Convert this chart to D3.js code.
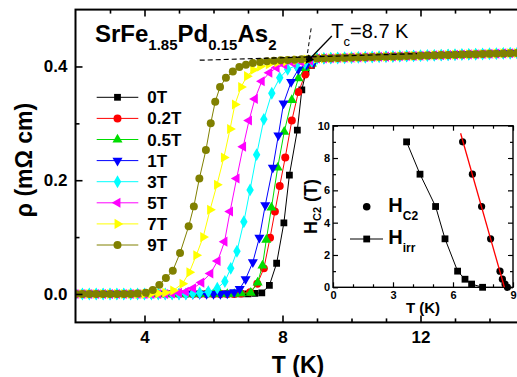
<!DOCTYPE html>
<html>
<head>
<meta charset="utf-8">
<script src="https://cdn.jsdelivr.net/npm/d3@7"></script>
<style>
body { margin: 0; background: #fff; }
text { font-family: Arial, "Liberation Sans", sans-serif; }
</style>
</head>
<body>
<div id="main"></div>
<script>
// fields and styles of the R(T) curves
var fields = ["0T", "0.2T", "0.5T", "1T", "3T", "5T", "7T", "9T"];
var colors = ["#000000", "#ff0000", "#00dd00", "#0000ff", "#00ffff", "#ff00ff", "#ffff00", "#808000"];
var shapes = ["square", "circle", "up", "down", "diamond", "left", "right", "circle"];

// [T (K), rho (mOhm cm)]
var rho0T = [[2.0,0],[2.2,0],[2.4,0],[2.6,0],[2.8,0],[3.0,0],[3.2,0],[3.4,0],[3.6,0],[3.8,0],[4.0,0],[4.2,0],[4.4,0],[4.6,0],[4.8,0],[5.0,0],[5.2,0],[5.4,0],[5.6,0],[5.8,0],[6.0,0],[6.2,0],[6.4,0],[6.6,0],[6.8,0],[7.0,0],[7.2,0.001],[7.4,0.002],
    [7.62,0.015],[7.83,0.054],[8.04,0.125],[8.2,0.209],[8.43,0.288],[8.56,0.359],[8.68,0.39],[8.84,0.402]];
var rho02T = [[2.0,0],[2.2,0],[2.4,0],[2.6,0],[2.8,0],[3.0,0],[3.2,0],[3.4,0],[3.6,0],[3.8,0],[4.0,0],[4.2,0],[4.4,0],[4.6,0],[4.8,0],[5.0,0],[5.2,0],[5.4,0],[5.6,0],[5.8,0],[6.0,0],[6.2,0],[6.4,0],[6.6,0],[6.8,0.001],
    [7.06,0.003],[7.27,0.018],[7.46,0.045],[7.64,0.099],[7.78,0.145],[7.92,0.19],[8.08,0.24],[8.27,0.305],[8.46,0.355],[8.66,0.386],[8.85,0.403]];
var rho05T = [[2.0,0],[2.2,0],[2.4,0],[2.6,0],[2.8,0],[3.0,0],[3.2,0],[3.4,0],[3.6,0],[3.8,0],[4.0,0],[4.2,0],[4.4,0],[4.6,0],[4.8,0],[5.0,0],[5.2,0],[5.4,0],[5.6,0],[5.8,0],[6.0,0],[6.2,0],[6.4,0],[6.6,0],[6.8,0.001],
    [7.08,0.002],[7.28,0.02],[7.42,0.05],[7.53,0.095],[7.68,0.152],[7.86,0.222],[8.05,0.285],[8.27,0.341],[8.46,0.379],[8.65,0.397],[8.85,0.405]];
var rho1T = [[2.0,0],[2.2,0],[2.4,0],[2.6,0],[2.8,0],[3.0,0],[3.2,0],[3.4,0],[3.6,0],[3.8,0],[4.0,0],[4.2,0],[4.4,0],[4.6,0],[4.8,0],[5.0,0],[5.2,0],[5.4,0],[5.6,0],[5.8,0],[6.0,0],[6.2,0],[6.4,0.001],
    [6.6,0.003],[6.76,0.009],[6.93,0.026],[7.14,0.056],[7.33,0.099],[7.5,0.156],[7.72,0.222],[7.88,0.279],[8.03,0.335],[8.25,0.373],[8.46,0.395],[8.7,0.403],[8.9,0.407]];
var rho3T = [[2.0,0],[2.2,0],[2.4,0],[2.6,0],[2.8,0],[3.0,0],[3.2,0],[3.4,0],[3.6,0],[3.8,0],[4.0,0],[4.2,0],[4.4,0],[4.6,0],[4.8,0],[5.0,0],[5.2,0],[5.4,0.001],[5.6,0.002],
    [5.85,0.004],[6.11,0.01],[6.33,0.022],[6.5,0.045],[6.68,0.075],[6.88,0.127],[7.06,0.183],[7.25,0.245],[7.46,0.307],[7.69,0.353],[7.92,0.38],[8.15,0.395],[8.4,0.402],[8.65,0.406],[8.85,0.409]];
var rho5T = [[2.0,0],[2.2,0],[2.4,0],[2.6,0],[2.8,0],[3.0,0],[3.2,0],[3.4,0],[3.6,0],[3.8,0],[4.0,0],[4.2,0],[4.4,0],[4.6,0],[4.8,0.001],[5.0,0.002],
    [5.2,0.004],[5.41,0.01],[5.65,0.02],[5.91,0.036],[6.12,0.058],[6.32,0.092],[6.48,0.145],[6.67,0.203],[6.86,0.259],[7.03,0.305],[7.2,0.343],[7.4,0.374],[7.62,0.389],[7.83,0.398],[8.05,0.403],[8.3,0.406],[8.55,0.408],[8.8,0.41]];
var rho7T = [[2.0,0],[2.2,0],[2.4,0],[2.6,0],[2.8,0],[3.0,0],[3.2,0],[3.4,0],[3.6,0],[3.8,0],[4.0,0],[4.2,0.001],[4.4,0.001],
    [4.6,0.002],[4.83,0.006],[5.1,0.018],[5.3,0.038],[5.5,0.068],[5.7,0.1],[5.9,0.148],[6.1,0.192],[6.3,0.24],[6.48,0.29],[6.62,0.333],[6.8,0.364],[6.97,0.383],[7.15,0.394],[7.35,0.4],[7.6,0.404],[7.85,0.407],[8.1,0.409],[8.4,0.411],[8.7,0.412]];
var rho9T = [[2.0,0],[2.2,0],[2.4,0],[2.6,0],[2.8,0],[3.0,0],[3.2,0],[3.4,0],[3.6,0],[3.8,0.001],
    [4.04,0.002],[4.24,0.007],[4.43,0.016],[4.62,0.028],[4.82,0.041],[5.03,0.072],[5.28,0.119],[5.43,0.154],[5.59,0.203],[5.78,0.253],[5.92,0.3],[6.05,0.338],[6.19,0.364],[6.36,0.38],[6.56,0.391],[6.75,0.399],[6.94,0.403],
    [7.14,0.406],[7.35,0.408],[7.55,0.409],[7.75,0.41],[7.95,0.411],[8.15,0.4115],[8.35,0.412],[8.55,0.4125],[8.75,0.413]];
// normal state above Tc, common to all fields
var normalState = [[9.0,0.414],[9.2,0.4143],[9.4,0.4146],[9.6,0.415],[9.8,0.4153],[10.0,0.4156],[10.2,0.416],[10.4,0.4163],[10.6,0.4166],[10.8,0.417],
    [11.0,0.4173],[11.2,0.4176],[11.4,0.418],[11.6,0.4183],[11.8,0.4186],[12.0,0.419],[12.2,0.4193],[12.4,0.4196],[12.6,0.42],[12.8,0.4203],
    [13.0,0.4206],[13.2,0.421],[13.4,0.4213],[13.6,0.4216],[13.8,0.422],[14.0,0.4223],[14.2,0.4226],[14.4,0.423],[14.6,0.4233],[14.8,0.4236]];
var curves = [rho0T, rho02T, rho05T, rho1T, rho3T, rho5T, rho7T, rho9T];

// Tc construction lines
var dashH = [[5.6, 0.411], [11.9, 0.4225]];
var dashV = [[8.83, 0.467], [8.68, 0.405]];
var arrowTc = [[9.43, 0.4535], [8.69, 0.407]];

// inset: fields and critical temperatures
var insetFields = [9, 7, 5, 3, 1, 0.5, 0.2, 0];
var tIrr = [3.68, 4.35, 5.13, 5.6, 6.23, 6.6, 6.93, 7.48];
var tC2 = [6.48, 6.97, 7.43, 7.88, 8.35, 8.47, 8.6, 8.72];
var hc2Fit = [[6.38, 9.53], [8.57, 0]];

var x = d3.scaleLinear().domain([2, 15]).range([75.5, 524]);
var y = d3.scaleLinear().domain([-0.05, 0.5]).range([322.4, 9.6]);
var ix = d3.scaleLinear().domain([0, 9]).range([333, 513]);
var iy = d3.scaleLinear().domain([0, 10]).range([287.3, 125.7]);

function symbolPath(shape) {
    var t = { square: d3.symbolSquare, circle: d3.symbolCircle, diamond: d3.symbolDiamond }[shape] || d3.symbolTriangle;
    var size = { square: 46, circle: 50, diamond: 48 }[shape] || 44;
    return d3.symbol().type(t).size(size)();
}
function symbolRot(shape) {
    return { down: 180, left: -90, right: 90 }[shape] || 0;
}

var svg = d3.select("#main").append("svg")
    .attr("width", 517).attr("height", 377);

svg.append("defs").append("clipPath").attr("id", "plotClip")
    .append("rect").attr("x", x(2)).attr("y", y(0.5))
    .attr("width", x(15) - x(2)).attr("height", y(-0.05) - y(0.5));

svg.append("defs").append("marker").attr("id", "arrowHead")
    .attr("viewBox", "0 0 10 10").attr("refX", 9).attr("refY", 5)
    .attr("markerWidth", 10).attr("markerHeight", 8).attr("markerUnits", "userSpaceOnUse")
    .attr("orient", "auto")
    .append("path").attr("d", "M0,0 L10,5 L0,10 Z").attr("fill", "#000");

// main curves
var plot = svg.append("g").attr("clip-path", "url(#plotClip)");
var line = d3.line().x(function (d) { return x(d[0]); }).y(function (d) { return y(d[1]); });

curves.forEach(function (c, i) {
    var pts = c.concat(normalState);
    var g = plot.append("g");
    g.append("path").attr("d", line(pts)).attr("fill", "none")
        .attr("stroke", colors[i]).attr("stroke-width", 1);
    g.selectAll("path.pt").data(pts).enter().append("path").attr("class", "pt")
        .attr("d", symbolPath(shapes[i]))
        .attr("transform", function (d) {
            return "translate(" + x(d[0]) + "," + y(d[1]) + ") rotate(" + symbolRot(shapes[i]) + ")";
        })
        .attr("fill", colors[i]);
});

// Tc construction
plot.append("path").attr("d", line(dashH)).attr("stroke", "#000").attr("stroke-width", 1.2)
    .attr("stroke-dasharray", "5,3").attr("fill", "none");
svg.append("path").attr("d", line(dashV)).attr("stroke", "#000").attr("stroke-width", 1)
    .attr("stroke-dasharray", "4,3").attr("fill", "none");
svg.append("path").attr("d", line(arrowTc)).attr("stroke", "#000").attr("stroke-width", 1.3)
    .attr("fill", "none").attr("marker-end", "url(#arrowHead)");

var tcText = svg.append("text").attr("x", x(9.43) - 0.5).attr("y", 37.5)
    .attr("font-size", 20).attr("fill", "#000");
tcText.append("tspan").text("T");
tcText.append("tspan").attr("font-size", 13).attr("dy", 8).text("c");
tcText.append("tspan").attr("dy", -8).text("=8.7 K");

// axes
function styleAxis(g) {
    g.select(".domain").remove();
    g.selectAll(".tick line").attr("stroke", "#000").attr("stroke-width", 1.6);
    g.selectAll(".tick text").attr("font-size", 17).attr("font-weight", "bold")
        .attr("fill", "#000").style("font-family", "Arial, 'Liberation Sans', sans-serif");
}
var majX = [4, 8, 12], minX = [3, 5, 6, 7, 9, 10, 11, 13, 14];
var majY = [0, 0.2, 0.4], minY = [0.1, 0.3];

svg.append("g").attr("transform", "translate(0," + y(-0.05) + ")")
    .call(d3.axisBottom(x).tickValues(majX).tickSize(-7).tickPadding(9).tickFormat(d3.format("d"))).call(styleAxis);
svg.append("g").attr("transform", "translate(0," + y(-0.05) + ")")
    .call(d3.axisBottom(x).tickValues(minX).tickSize(-4).tickFormat("")).call(styleAxis);
svg.append("g").attr("transform", "translate(0," + y(0.5) + ")")
    .call(d3.axisTop(x).tickValues(majX).tickSize(-7).tickFormat("")).call(styleAxis);
svg.append("g").attr("transform", "translate(0," + y(0.5) + ")")
    .call(d3.axisTop(x).tickValues(minX).tickSize(-4).tickFormat("")).call(styleAxis);
svg.append("g").attr("transform", "translate(" + x(2) + ",0)")
    .call(d3.axisLeft(y).tickValues(majY).tickSize(-7).tickPadding(8).tickFormat(d3.format(".1f"))).call(styleAxis);
svg.append("g").attr("transform", "translate(" + x(2) + ",0)")
    .call(d3.axisLeft(y).tickValues(minY).tickSize(-4).tickFormat("")).call(styleAxis);
svg.append("g").attr("transform", "translate(" + x(15) + ",0)")
    .call(d3.axisRight(y).tickValues(majY).tickSize(-7).tickFormat("")).call(styleAxis);
svg.append("g").attr("transform", "translate(" + x(15) + ",0)")
    .call(d3.axisRight(y).tickValues(minY).tickSize(-4).tickFormat("")).call(styleAxis);

svg.append("rect").attr("x", x(2)).attr("y", y(0.5))
    .attr("width", x(15) - x(2)).attr("height", y(-0.05) - y(0.5))
    .attr("fill", "none").attr("stroke", "#000").attr("stroke-width", 2);

svg.append("text").attr("x", 298).attr("y", 373).attr("text-anchor", "middle")
    .attr("font-size", 23).attr("font-weight", "bold").text("T (K)");
svg.append("text").attr("transform", "translate(32,160) rotate(-90)").attr("text-anchor", "middle")
    .attr("font-size", 23).attr("font-weight", "bold").text("\u03c1 (m\u03a9 cm)");

// title
var title = svg.append("text").attr("x", 95).attr("y", 41.7)
    .attr("font-size", 24).attr("font-weight", "bold");
[["SrFe", 0], ["1.85", 1], ["Pd", 0], ["0.15", 1], ["As", 0], ["2", 1]].forEach(function (p, i, arr) {
    var prev = i > 0 ? arr[i - 1][1] : 0;
    title.append("tspan").attr("font-size", p[1] ? 15 : 24)
        .attr("dy", (p[1] - prev) * 8).text(p[0]);
});

// legend
var legend = svg.append("g");
fields.forEach(function (f, i) {
    var ly = 97.3 + i * 21.1;
    legend.append("line").attr("x1", 96.7).attr("x2", 138.3).attr("y1", ly).attr("y2", ly)
        .attr("stroke", colors[i]).attr("stroke-width", 1);
    legend.append("path").attr("d", symbolPath(shapes[i]))
        .attr("transform", "translate(117.5," + ly + ") rotate(" + symbolRot(shapes[i]) + ")")
        .attr("fill", colors[i]);
    legend.append("text").attr("x", 147.3).attr("y", ly + 6).attr("font-size", 17)
        .attr("font-weight", "bold").text(f);
});

// inset
var inset = svg.append("g");
inset.append("rect").attr("x", ix(0)).attr("y", iy(10))
    .attr("width", ix(9) - ix(0)).attr("height", iy(0) - iy(10)).attr("fill", "#fff");

function styleInset(g) {
    g.select(".domain").remove();
    g.selectAll(".tick line").attr("stroke", "#000").attr("stroke-width", 1.2);
    g.selectAll(".tick text").attr("font-size", 11).attr("font-weight", "bold")
        .attr("fill", "#000").style("font-family", "Arial, 'Liberation Sans', sans-serif");
}
var iMajX = [0, 3, 6, 9], iMinX = [1, 2, 4, 5, 7, 8];
var iMajY = [0, 2, 4, 6, 8, 10], iMinY = [1, 3, 5, 7, 9];
inset.append("g").attr("transform", "translate(0," + iy(0) + ")")
    .call(d3.axisBottom(ix).tickValues(iMajX).tickSize(-5).tickPadding(4)).call(styleInset);
inset.append("g").attr("transform", "translate(0," + iy(0) + ")")
    .call(d3.axisBottom(ix).tickValues(iMinX).tickSize(-3).tickFormat("")).call(styleInset);
inset.append("g").attr("transform", "translate(0," + iy(10) + ")")
    .call(d3.axisTop(ix).tickValues(iMajX).tickSize(-5).tickFormat("")).call(styleInset);
inset.append("g").attr("transform", "translate(0," + iy(10) + ")")
    .call(d3.axisTop(ix).tickValues(iMinX).tickSize(-3).tickFormat("")).call(styleInset);
inset.append("g").attr("transform", "translate(" + ix(0) + ",0)")
    .call(d3.axisLeft(iy).tickValues(iMajY).tickSize(-5).tickPadding(3)).call(styleInset);
inset.append("g").attr("transform", "translate(" + ix(0) + ",0)")
    .call(d3.axisLeft(iy).tickValues(iMinY).tickSize(-3).tickFormat("")).call(styleInset);
inset.append("g").attr("transform", "translate(" + ix(9) + ",0)")
    .call(d3.axisRight(iy).tickValues(iMajY).tickSize(-5).tickFormat("")).call(styleInset);
inset.append("g").attr("transform", "translate(" + ix(9) + ",0)")
    .call(d3.axisRight(iy).tickValues(iMinY).tickSize(-3).tickFormat("")).call(styleInset);

inset.append("rect").attr("x", ix(0)).attr("y", iy(10))
    .attr("width", ix(9) - ix(0)).attr("height", iy(0) - iy(10))
    .attr("fill", "none").attr("stroke", "#000").attr("stroke-width", 1.4);

var irrPts = tIrr.map(function (t, i) { return [t, insetFields[i]]; });
var c2Pts = tC2.map(function (t, i) { return [t, insetFields[i]]; });
var iline = d3.line().x(function (d) { return ix(d[0]); }).y(function (d) { return iy(d[1]); });

inset.append("path").attr("d", iline(irrPts)).attr("fill", "none").attr("stroke", "#000").attr("stroke-width", 1);
inset.selectAll("rect.irr").data(irrPts).enter().append("rect").attr("class", "irr")
    .attr("x", function (d) { return ix(d[0]) - 3.4; }).attr("y", function (d) { return iy(d[1]) - 3.4; })
    .attr("width", 6.8).attr("height", 6.8).attr("fill", "#000");
inset.selectAll("circle.c2").data(c2Pts).enter().append("circle").attr("class", "c2")
    .attr("cx", function (d) { return ix(d[0]); }).attr("cy", function (d) { return iy(d[1]); })
    .attr("r", 3.6).attr("fill", "#000");
inset.append("path").attr("d", iline(hc2Fit)).attr("fill", "none").attr("stroke", "#ff0000").attr("stroke-width", 1.3);

inset.append("text").attr("x", 423).attr("y", 312.5).attr("text-anchor", "middle")
    .attr("font-size", 15).attr("font-weight", "bold").text("T (K)");
var iyl = inset.append("text").attr("transform", "translate(317,206.5) rotate(-90)")
    .attr("text-anchor", "middle").attr("font-size", 18).attr("font-weight", "bold");
iyl.append("tspan").text("H");
iyl.append("tspan").attr("font-size", 11).attr("dy", 4).text("C2");
iyl.append("tspan").attr("dy", -4).text(" (T)");

// inset legend
inset.append("circle").attr("cx", 366.7).attr("cy", 206.7).attr("r", 3.8).attr("fill", "#000");
var l1 = inset.append("text").attr("x", 388.3).attr("y", 211.7).attr("font-size", 20).attr("font-weight", "bold");
l1.append("tspan").text("H");
l1.append("tspan").attr("font-size", 12).attr("dy", 8).text("C2");
inset.append("line").attr("x1", 350).attr("x2", 383).attr("y1", 239).attr("y2", 239)
    .attr("stroke", "#000").attr("stroke-width", 1);
inset.append("rect").attr("x", 366.7 - 3.4).attr("y", 239 - 3.4).attr("width", 6.8).attr("height", 6.8).attr("fill", "#000");
var l2 = inset.append("text").attr("x", 388.3).attr("y", 244.3).attr("font-size", 20).attr("font-weight", "bold");
l2.append("tspan").text("H");
l2.append("tspan").attr("font-size", 12).attr("dy", 7.5).text("irr");
</script>
</body>
</html>
